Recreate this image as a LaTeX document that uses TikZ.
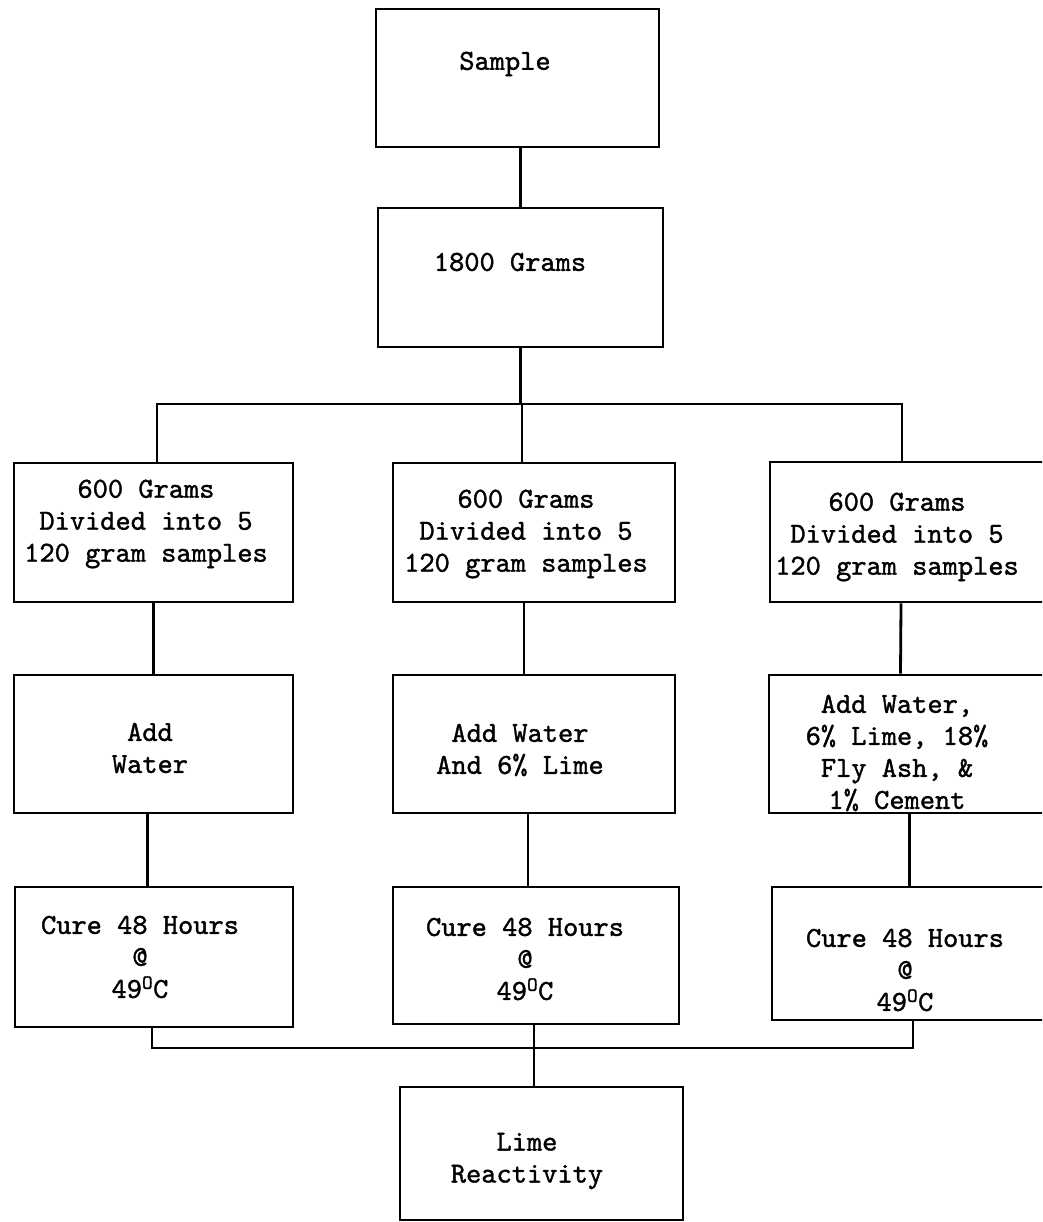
\documentclass[tikz,border=0pt]{standalone}
\usepackage{fontspec}
\newfontfamily\twfont{lmmono10-regular.otf}[FakeBold=1.3]
\begin{document}
\begin{tikzpicture}[x=1pt,y=-1pt,
  box/.style={draw, line width=2.8pt, rectangle, inner sep=0pt},
  txt/.style={font=\fontsize{29}{32}\selectfont\twfont, align=center, inner sep=0pt},
  link/.style={line width=2.8pt}]
\fill[white] (0,0) rectangle (1042,1222);
\clip (0,0) rectangle (1042,1222);
% boxes
\node[box, minimum width=283pt, minimum height=138pt] (sample) at (517.5,78) {};
\node[box, minimum width=285pt, minimum height=139pt] (g1800) at (520.5,277.5) {};
\node[box, minimum width=279pt, minimum height=139pt] (l600) at (153.5,532.5) {};
\node[box, minimum width=282pt, minimum height=139pt] (m600) at (534,532.5) {};
\node[box, minimum width=280pt, minimum height=140pt] (r600) at (910,532) {};
\node[box, minimum width=279pt, minimum height=138pt] (ladd) at (153.5,744) {};
\node[box, minimum width=282pt, minimum height=138pt] (madd) at (534,744) {};
\node[box, minimum width=281pt, minimum height=138pt] (radd) at (909.5,744) {};
\node[box, minimum width=278pt, minimum height=140pt] (lcure) at (154,957) {};
\node[box, minimum width=286pt, minimum height=137pt] (mcure) at (536,955.5) {};
\node[box, minimum width=278pt, minimum height=133pt] (rcure) at (911,953.5) {};
\node[box, minimum width=283pt, minimum height=133pt] (lime) at (541.5,1153.5) {};
% texts
\node[txt] (tsample) at (505,64) {Sample};
\node[txt] (t1800) at (510,262) {1800 Grams};
\node[txt] (tl600) at (146,524) {600 Grams\\Divided into 5\\120 gram samples};
\node[txt] (tm600) at (526,534) {600 Grams\\Divided into 5\\120 gram samples};
\node[txt] (tr600) at (897,537) {600 Grams\\Divided into 5\\120 gram samples};
\node[txt] (tladd) at (150,748) {Add\\Water};
\node[txt] (tmadd) at (520,750) {Add Water\\And 6\% Lime};
\node[txt] (tradd) at (897,753) {Add Water,\\6\% Lime, 18\%\\Fly Ash, \&\\1\% Cement};
\node[txt] (tlcure) at (140,957) {Cure 48 Hours\\@\\49\textsuperscript{O}C};
\node[txt] (tmcure) at (525,959) {Cure 48 Hours\\@\\49\textsuperscript{O}C};
\node[txt] (trcure) at (905,970) {Cure 48 Hours\\@\\49\textsuperscript{O}C};
\node[txt] (tlime) at (527,1161) {Lime\\Reactivity};
% connectors
\coordinate (busL) at (157,404);
\coordinate (busM) at (522,404);
\coordinate (busR) at (902,404);
\draw[link] (g1800.north) -- (g1800.north |- sample.south);
\draw[link] (g1800.south) -- (g1800.south |- busL);
\draw[link] (l600.north -| busL) -- (busL) -- (busR) -- (r600.north -| busR);
\draw[link] (busM) -- (m600.north -| busM);
\draw[link] (l600.south) -- (ladd.north);
\draw[link] ([xshift=-10pt]m600.south) -- ([xshift=-10pt]madd.north);
\draw[link] ([xshift=-9pt]r600.south) -- ([xshift=-9pt]radd.north);
\draw[link] ([xshift=-6pt]ladd.south) -- ([xshift=-6pt]ladd.south |- lcure.north);
\draw[link] ([xshift=-6pt]madd.south) -- ([xshift=-6pt]madd.south |- mcure.north);
\draw[link] (radd.south) -- (radd.south |- rcure.north);
\coordinate (cbL) at (152,1048);
\coordinate (cbM) at (534,1048);
\coordinate (cbR) at (913,1048);
\draw[link] (lcure.south -| cbL) -- (cbL) -- (cbR) -- (rcure.south -| cbR);
\draw[link] (mcure.south -| cbM) -- (lime.north -| cbM);
\end{tikzpicture}
\end{document}
